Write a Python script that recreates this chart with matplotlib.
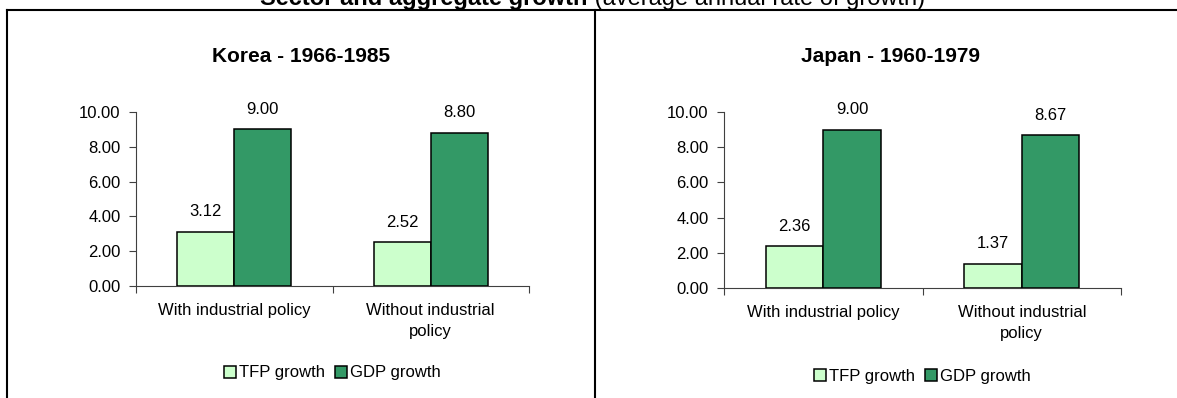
import matplotlib
matplotlib.use('Agg')
import matplotlib.pyplot as plt
from matplotlib.lines import Line2D
from matplotlib.ticker import FixedLocator, FormatStrFormatter
import numpy as np

plt.rcParams['font.family'] = ['Liberation Sans', 'DejaVu Sans']
plt.rcParams['font.size'] = 12

# data
categories = ['With industrial policy', 'Without industrial\npolicy']
series_names = ['TFP growth', 'GDP growth']
korea_tfp = [3.12, 2.52]
korea_gdp = [9.00, 8.80]
japan_tfp = [2.36, 1.37]
japan_gdp = [9.00, 8.67]
panel_titles = ['Korea - 1966-1985', 'Japan - 1960-1979']
y_ticks = [0, 2, 4, 6, 8, 10]

TFP_COLOR = '#CCFFCC'
GDP_COLOR = '#339966'
AXIS_COLOR = '#404040'

W, H = 1177, 398
fig = plt.figure(figsize=(W / 100, H / 100), dpi=100)


def px_rect(x0, y0, x1, y1):
    # pixel box (top-left origin) -> figure fraction rect
    return [x0 / W, 1 - y1 / H, (x1 - x0) / W, (y1 - y0) / H]


def draw_panel(rect, tfp, gdp):
    ax = fig.add_axes(rect)
    x = np.arange(len(categories))
    bw = 0.29
    b1 = ax.bar(x - bw / 2, tfp, bw, color=TFP_COLOR, edgecolor='black',
                linewidth=1.1, label=series_names[0], zorder=3)
    b2 = ax.bar(x + bw / 2, gdp, bw, color=GDP_COLOR, edgecolor='black',
                linewidth=1.1, label=series_names[1], zorder=3)
    for bars in (b1, b2):
        for r in bars:
            ax.annotate('%.2f' % r.get_height(),
                        (r.get_x() + r.get_width() / 2, r.get_height()),
                        xytext=(0, 9), textcoords='offset points',
                        ha='center', va='bottom', fontsize=12)
    ax.set_xlim(-0.5, len(categories) - 0.5)
    ax.set_ylim(0, 10)
    ax.yaxis.set_major_locator(FixedLocator(y_ticks))
    ax.yaxis.set_major_formatter(FormatStrFormatter('%.2f'))
    ax.xaxis.set_major_locator(FixedLocator(np.arange(len(categories) + 1) - 0.5))
    ax.xaxis.set_major_formatter(plt.NullFormatter())
    ax.xaxis.set_minor_locator(FixedLocator(x))
    ax.set_xticklabels(categories, minor=True)
    for t in ax.get_xticklabels(minor=True):
        t.set_linespacing(1.5)
    ax.tick_params(axis='x', which='minor', length=0, pad=12, labelsize=12)
    ax.tick_params(axis='x', which='major', length=5, width=0.8,
                   color=AXIS_COLOR, direction='out')
    ax.tick_params(axis='y', length=5, width=0.8, color=AXIS_COLOR,
                   direction='out', pad=6, labelsize=12)
    for s in ('top', 'right'):
        ax.spines[s].set_visible(False)
    for s in ('left', 'bottom'):
        ax.spines[s].set_color(AXIS_COLOR)
        ax.spines[s].set_linewidth(0.8)
    ax.legend(loc='center', bbox_to_anchor=(0.5, -0.5), ncol=2,
              frameon=False, fontsize=12, handlelength=0.7,
              handleheight=0.7, handletextpad=0.2, columnspacing=0.6)
    return ax


draw_panel(px_rect(136, 112, 529, 286), korea_tfp, korea_gdp)
draw_panel(px_rect(724, 112, 1121, 288), japan_tfp, japan_gdp)

# panel titles
fig.text(301 / W, 1 - 56 / H, panel_titles[0], ha='center', va='center',
         fontsize=15, fontweight='bold')
fig.text(890 / W, 1 - 56 / H, panel_titles[1], ha='center', va='center',
         fontsize=15, fontweight='bold')

# main title, mostly cut off at the top
fig.text(588 / W, 1 - 5 / H, 'Sector and aggregate growth', ha='right',
         va='baseline', fontsize=17, fontweight='bold')
fig.text(588 / W, 1 - 5 / H, ' (average annual rate of growth)', ha='left',
         va='baseline', fontsize=17)

# frame lines
lw = 1.5
fig.add_artist(Line2D([7 / W, 1], [1 - 9.5 / H, 1 - 9.5 / H], color='black', lw=lw))
fig.add_artist(Line2D([7 / W, 7 / W], [0, 1 - 9.5 / H], color='black', lw=lw))
fig.add_artist(Line2D([595 / W, 595 / W], [0, 1 - 9.5 / H], color='black', lw=lw))

fig.savefig('out.png', dpi=100)
